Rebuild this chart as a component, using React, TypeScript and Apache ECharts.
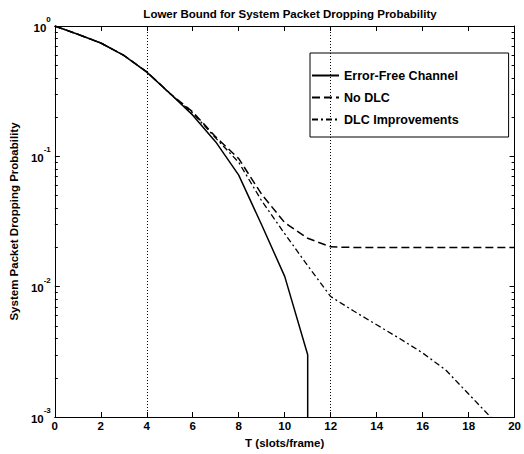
import React, { useEffect, useRef } from "react";
import * as echarts from "echarts";

const T = [0, 1, 2, 3, 4, 5, 6, 7, 8, 9, 10, 11, 12, 13, 14, 15, 16, 17, 18, 19, 20];
const errorFree = [1, 0.864, 0.741, 0.596, 0.443, 0.305, 0.207, 0.129, 0.0718, 0.0297, 0.012, 0.003];
const errorFreeDrop = [11, 0.001];
const noDLC = [1, 0.864, 0.741, 0.596, 0.445, 0.305, 0.219, 0.141, 0.096, 0.051, 0.031, 0.0235, 0.0202, 0.02, 0.02, 0.02, 0.02, 0.02, 0.02, 0.02, 0.02];
const dlcImprove = [1, 0.864, 0.741, 0.596, 0.445, 0.303, 0.215, 0.138, 0.09, 0.0455, 0.0255, 0.0145, 0.0084, 0.0065, 0.0051, 0.004, 0.0031, 0.0023, 0.0015, 0.00098];
const xTicks = [0, 2, 4, 6, 8, 10, 12, 14, 16, 18, 20];
const yMajor = [1, 0.1, 0.01, 0.001];
const yMinor = [2, 3, 4, 5, 6, 7, 8, 9].flatMap((m) => [m * 0.001, m * 0.01, m * 0.1]);
const markX = [4, 12];

const FONT = "Liberation Sans";

export default function App() {
  const ref = useRef<HTMLDivElement>(null);
  useEffect(() => {
    const chart = echarts.init(ref.current!, null, { renderer: "svg" });
    const pair = (ys: number[]) => ys.map((y, i) => [T[i], y]);
    const axisLine = { show: true, lineStyle: { color: "#000", width: 1 } };
    const yBase = {
      type: "log" as const,
      logBase: 10,
      min: 0.001,
      max: 1,
      splitLine: { show: false },
    };
    chart.setOption({
      animation: false,
      backgroundColor: "#fff",
      textStyle: { fontFamily: FONT, color: "#000" },
      title: {
        text: "Lower Bound for System Packet Dropping Probability",
        left: 285,
        textAlign: "center",
        top: 3,
        textStyle: { fontFamily: FONT, fontSize: 11.5, fontWeight: "bold", color: "#000" },
      },
      grid: { left: 51, top: 26, right: 4, bottom: 37 },
      legend: {
        orient: "vertical",
        left: 310,
        top: 53,
        padding: [16, 50, 11, 1],
        itemGap: 9,
        itemWidth: 27,
        itemHeight: 14,
        borderColor: "#000",
        borderWidth: 1,
        backgroundColor: "#fff",
        itemStyle: { opacity: 0 },
        textStyle: { fontFamily: FONT, fontSize: 12.5, fontWeight: "bold", color: "#000" },
        data: ["Error-Free Channel", "No DLC", "DLC Improvements"],
      },
      xAxis: [
        {
          type: "value",
          min: 0,
          max: 20,
          interval: 2,
          position: "bottom",
          name: "T (slots/frame)",
          nameLocation: "middle",
          nameGap: 13,
          nameTextStyle: { fontFamily: FONT, fontSize: 11.5, fontWeight: "bold", color: "#000" },
          axisLine,
          axisTick: { show: true, inside: true, length: 5, lineStyle: { color: "#000" }, customValues: xTicks },
          axisLabel: { fontFamily: FONT, fontSize: 11.5, fontWeight: "bold", color: "#000", margin: 3, customValues: xTicks },
          splitLine: { show: false },
        },
        {
          type: "value",
          min: 0,
          max: 20,
          interval: 2,
          position: "top",
          axisLine,
          axisTick: { show: true, inside: true, length: 5, lineStyle: { color: "#000" } },
          axisLabel: { show: false },
          splitLine: { show: false },
        },
      ],
      yAxis: [
        {
          ...yBase,
          position: "left",
          name: "System Packet Dropping Probability",
          nameLocation: "middle",
          nameGap: 30,
          nameTextStyle: { fontFamily: FONT, fontSize: 11.5, fontWeight: "bold", color: "#000" },
          axisLine,
          axisTick: { show: true, inside: true, length: 5, lineStyle: { color: "#000" }, customValues: yMajor },
          axisLabel: {
            margin: 4,
            customValues: yMajor,
            padding: [0, 0, 3, 0],
            formatter: (v: number) => `{b|10}{s|${Math.round(Math.log10(v))}}`,
            rich: {
              b: { fontFamily: FONT, fontSize: 11.5, fontWeight: "bold", color: "#000", lineHeight: 18, verticalAlign: "bottom" },
              s: { fontFamily: FONT, fontSize: 8, fontWeight: "bold", color: "#000", lineHeight: 10, verticalAlign: "top" },
            },
          },
        },
        {
          ...yBase,
          position: "left",
          axisLine: { show: false },
          axisTick: { show: true, inside: true, length: 3, lineStyle: { color: "#000" }, customValues: yMinor },
          axisLabel: { show: false },
        },
        {
          ...yBase,
          position: "right",
          axisLine,
          axisTick: { show: true, inside: true, length: 5, lineStyle: { color: "#000" }, customValues: yMajor },
          axisLabel: { show: false },
        },
        {
          ...yBase,
          position: "right",
          axisLine: { show: false },
          axisTick: { show: true, inside: true, length: 3, lineStyle: { color: "#000" }, customValues: yMinor },
          axisLabel: { show: false },
        },
      ],
      series: [
        {
          name: "Error-Free Channel",
          type: "line",
          data: [...pair(errorFree), errorFreeDrop],
          symbol: "none",
          lineStyle: { color: "#000", width: 1.5, type: "solid" },
          itemStyle: { color: "#000" },
          markLine: {
            silent: true,
            symbol: ["none", "none"],
            label: { show: false },
            lineStyle: { color: "#000", width: 1, type: [1, 2] },
            data: markX.map((x) => ({ xAxis: x })),
          },
        },
        {
          name: "No DLC",
          type: "line",
          data: pair(noDLC),
          symbol: "none",
          lineStyle: { color: "#000", width: 1.5, type: [8, 4] },
          itemStyle: { color: "#000" },
        },
        {
          name: "DLC Improvements",
          type: "line",
          data: pair(dlcImprove),
          symbol: "none",
          lineStyle: { color: "#000", width: 1.3, type: [6, 3, 2, 3] },
          itemStyle: { color: "#000" },
        },
      ],
    });
    return () => chart.dispose();
  }, []);
  return <div ref={ref} style={{ position: "fixed", left: 0, top: 0, width: 524, height: 454 }} />;
}
